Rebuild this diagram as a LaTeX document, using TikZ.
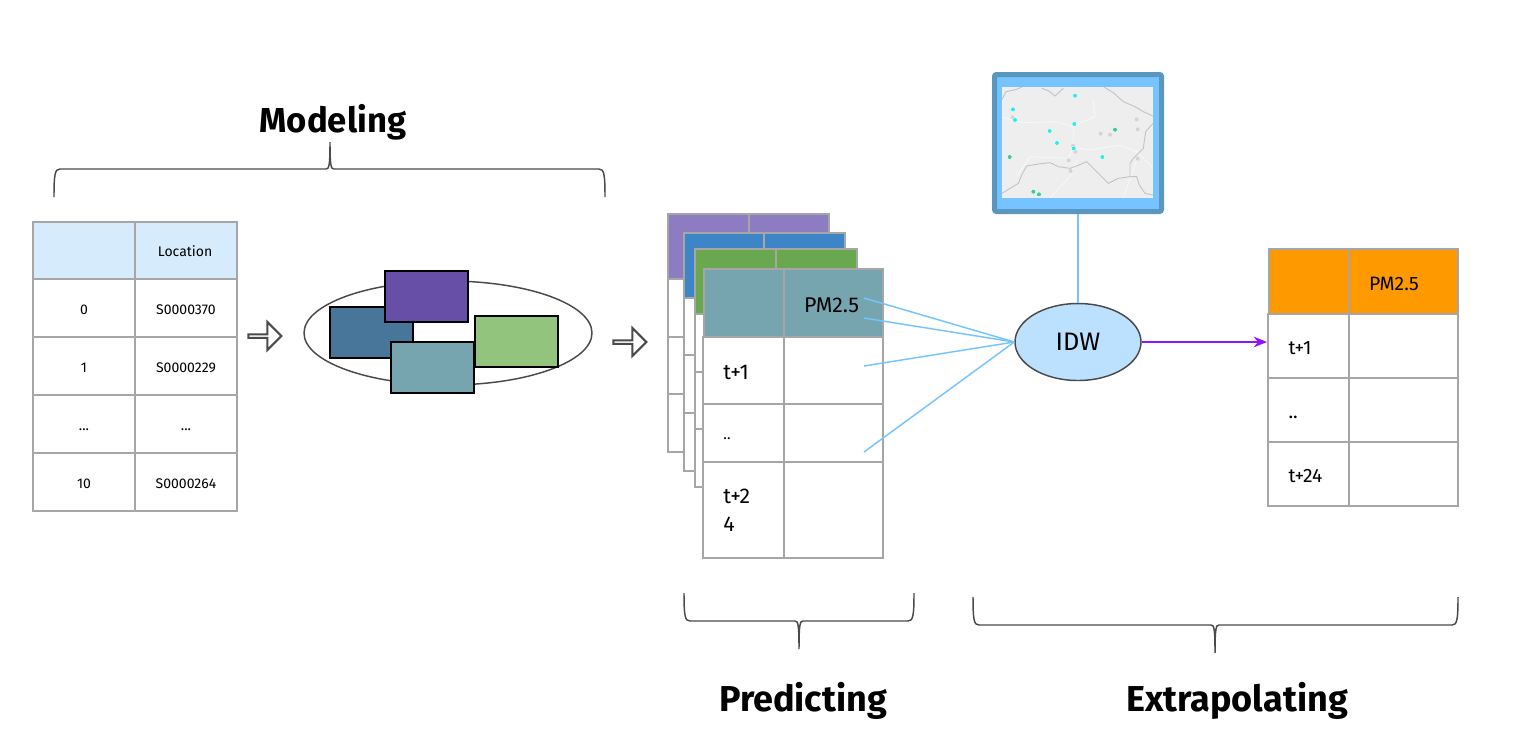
\documentclass[tikz,border=0pt]{standalone}
\usepackage{fontspec}
\setmainfont{Fira Sans}
\usetikzlibrary{arrows.meta,positioning,shapes.geometric,shapes.arrows}
\definecolor{cellgray}{HTML}{A6A6A6}
\definecolor{headblue}{HTML}{D6ECFD}
\definecolor{headteal}{HTML}{76A5AF}
\definecolor{headpurple}{HTML}{8E7CC3}
\definecolor{headblue2}{HTML}{3D85C6}
\definecolor{headgreen}{HTML}{6AA84F}
\definecolor{headorange}{HTML}{FF9900}
\definecolor{modelblue}{HTML}{47769A}
\definecolor{modelpurple}{HTML}{674EA7}
\definecolor{modelgreen}{HTML}{93C47D}
\definecolor{linkblue}{HTML}{75C4FF}
\definecolor{idwfill}{HTML}{BBE1FF}
\definecolor{linkpurple}{HTML}{9013FE}
\definecolor{framblue}{HTML}{5B96BE}
\definecolor{darkline}{HTML}{4A4A4A}
\definecolor{mapgray}{HTML}{EEEEEE}
\definecolor{mapborder}{HTML}{C4C4C4}
\definecolor{maproad}{HTML}{F8F8F8}
\definecolor{dotcyan}{HTML}{2CEDE6}
\definecolor{dotgreen}{HTML}{3CC9A0}
\def\px{0.75pt}
\tikzset{
  tablecell/.style={
    rectangle,
    draw=cellgray,
    line width=1.5pt,
    fill=white,
    inner sep=0pt,
    outer sep=0pt,
    align=center
  },
  textcell/.style={tablecell, align=left, inner xsep=15pt, inner ysep=0pt},
  smallcell/.style={font=\fontsize{10.5}{12}\selectfont, text height=9.5pt, text depth=0pt},
  bigtext/.style={font=\fontsize{16}{18}\selectfont, text height=14.2pt, text depth=0pt},
  midtext/.style={font=\fontsize{14.5}{16}\selectfont, text height=13pt, text depth=0pt},
  modelbox/.style={rectangle, draw=black, line width=1.5pt, inner sep=0pt,
    minimum width=83*\px, minimum height=51*\px, anchor=north west},
  stagelabel/.style={font=\fontsize{27}{30}\selectfont\bfseries},
  hollowarrow/.style={single arrow, draw=darkline, line width=1.5pt, fill=white,
    minimum height=33*\px, minimum width=28*\px, single arrow head extend=7*\px,
    single arrow head indent=0pt, inner sep=0pt, outer sep=0pt},
  bracket/.style={draw=darkline, line width=1.1pt},
  idwlink/.style={draw=linkblue, line width=1.1pt},
  mapdot/.style={circle, inner sep=0pt, minimum size=3.6pt, draw=white, line width=.3pt}
}
\begin{document}
\begin{tikzpicture}[x=0.75pt,y=-0.75pt]
\useasboundingbox (0,0) rectangle (1524,744);

% modeling table
\node[tablecell, fill=headblue, minimum width=102*\px, minimum height=57*\px] (lh) at (84,250.5) {};
\node[textcell, smallcell, fill=headblue, text width=46.5pt, minimum height=57*\px, right=0pt of lh] (lloc) {\hspace{2.2pt}Location};
\node[tablecell, smallcell, minimum width=102*\px, minimum height=58*\px, below=0pt of lh] (la) {0};
\node[tablecell, smallcell, minimum width=102*\px, minimum height=58*\px, below=0pt of la] (lb) {1};
\node[tablecell, smallcell, minimum width=102*\px, minimum height=58*\px, below=0pt of lb] (lc) {...};
\node[tablecell, smallcell, minimum width=102*\px, minimum height=57.5*\px, below=0pt of lc] (ld) {10};
\node[tablecell, smallcell, minimum width=102*\px, minimum height=58*\px, below=0pt of lloc] (ma) {S0000370};
\node[tablecell, smallcell, minimum width=102*\px, minimum height=58*\px, below=0pt of ma] (mb) {S0000229};
\node[tablecell, smallcell, minimum width=102*\px, minimum height=58*\px, below=0pt of mb] (mc) {...};
\node[tablecell, smallcell, minimum width=102*\px, minimum height=57.5*\px, below=0pt of mc] (md) {S0000264};

\node[hollowarrow] (arrowa) at (264,336) {};

% model ensemble
\node[ellipse, draw=darkline, line width=1.1pt, fill=white, minimum width=288*\px, minimum height=104*\px, inner sep=0pt] (ens) at (448,333) {};
\node[modelbox, fill=modelblue] (mblue) at (329,306) {};
\node[modelbox, fill=modelpurple] (mpurple) at (384,270) {};
\node[modelbox, fill=modelgreen] (mgreen) at (474,315) {};
\node[modelbox, fill=headteal] (mteal) at (390,341) {};

\node[hollowarrow] (arrowb) at (629,342) {};

% stacked prediction tables
\foreach \n/\x/\y/\a/\b/\hh/\ra/\rb/\rc/\f in {
  pu/668/214/81/80/65/58/57/58/headpurple,
  bl/684/233/80/81/65/57/58/58/headblue2,
  gr/695/249/81/81/65/58/57/58/headgreen}{
  \node[tablecell, fill=\f, minimum width=\a*\px, minimum height=\hh*\px, anchor=north west] (\n h) at (\x,\y) {};
  \node[tablecell, fill=\f, minimum width=\b*\px, minimum height=\hh*\px, right=0pt of \n h] (\n v) {};
  \node[tablecell, minimum width=\a*\px, minimum height=\ra*\px, below=0pt of \n h] (\n a) {};
  \node[tablecell, minimum width=\a*\px, minimum height=\rb*\px, below=0pt of \n a] (\n b) {};
  \node[tablecell, minimum width=\a*\px, minimum height=\rc*\px, below=0pt of \n b] (\n c) {};
  \node[tablecell, minimum width=\b*\px, minimum height=\ra*\px, below=0pt of \n v] (\n d) {};
  \node[tablecell, minimum width=\b*\px, minimum height=\rb*\px, below=0pt of \n d] (\n e) {};
  \node[tablecell, minimum width=\b*\px, minimum height=\rc*\px, below=0pt of \n e] (\n f) {};
}
\node[tablecell, fill=headteal, minimum width=80.5*\px, minimum height=68*\px, anchor=north west] (th) at (703.5,269) {};
\node[textcell, bigtext, fill=headteal, text width=44pt, minimum height=68*\px, right=0pt of th] (tv) {PM2.5};
\node[textcell, bigtext, text width=30.4pt, minimum height=67*\px, below=0pt of th] (ta) {t+1};
\node[textcell, text width=30.4pt, minimum height=58*\px, font=\fontsize{11}{13}\selectfont, text height=9pt, text depth=0pt, below=0pt of ta] (tb) {..};
\node[textcell, text width=30.4pt, minimum height=95.5*\px, font=\fontsize{16}{21}\selectfont, below=0pt of tb] (tc) {t+2\\4};
\node[tablecell, minimum width=98.67*\px, minimum height=67*\px, below=0pt of tv] (td) {};
\node[tablecell, minimum width=98.67*\px, minimum height=58*\px, below=0pt of td] (te) {};
\node[tablecell, minimum width=98.67*\px, minimum height=95.5*\px, below=0pt of te] (tf) {};

% extrapolated table
\node[tablecell, fill=headorange, minimum width=80.5*\px, minimum height=65*\px, anchor=north west] (rh) at (1268.5,249) {};
\node[textcell, midtext, fill=headorange, text width=51.5pt, minimum height=65*\px, right=0pt of rh] (rv) {PM2.5};
\node[textcell, midtext, text width=30.4pt, minimum height=64*\px, below=0pt of rh] (ra) {t+1};
\node[textcell, midtext, text width=30.4pt, minimum height=64*\px, below=0pt of ra] (rb) {..};
\node[textcell, midtext, text width=30.4pt, minimum height=64*\px, below=0pt of rb] (rc) {t+24};
\node[tablecell, minimum width=108.67*\px, minimum height=64*\px, below=0pt of rv] (rd) {};
\node[tablecell, minimum width=108.67*\px, minimum height=64*\px, below=0pt of rd] (re) {};
\node[tablecell, minimum width=108.67*\px, minimum height=64*\px, below=0pt of re] (rf) {};

% map screen
\node[rectangle, rounded corners=1.5pt, draw=framblue, line width=3.75pt, fill=linkblue, minimum width=167*\px, minimum height=137*\px, inner sep=0pt] (screen) at (1078,143) {};
\begin{scope}[shift={(980,60)},x=0.25pt,y=-0.25pt]
  \fill[mapgray] (66,81) rectangle (519,413);
  \begin{scope}
    \clip (66,81) rectangle (519,413);
    \draw[maproad, line width=.6pt] (66,172) -- (130,188) -- (230,185) -- (280,200) -- (280,262) -- (330,270) -- (420,255) -- (470,275) -- (519,325);
    \draw[maproad, line width=.6pt] (340,120) -- (345,170) -- (285,195);
    \draw[maproad, line width=.6pt] (110,350) -- (150,290) -- (265,295) -- (280,262);
    \draw[maproad, line width=.6pt] (210,413) -- (270,350) -- (290,300);
    \draw[maproad, line width=.6pt] (430,413) -- (470,300);
    \draw[mapborder, line width=.7pt] (66,118) -- (78,95) -- (110,88) -- (125,81);
    \draw[mapborder, line width=.7pt] (185,85) -- (205,92) -- (225,108) -- (250,85);
    \draw[mapborder, line width=.7pt] (372,81) -- (400,98) -- (430,125) -- (465,140) -- (490,155) -- (519,168);
    \draw[mapborder, line width=.7pt] (519,190) -- (497,215) -- (490,265) -- (460,295) -- (450,310) -- (450,350) -- (415,355) -- (385,370) -- (360,345) -- (335,320) -- (320,305) -- (290,318) -- (270,325) -- (235,320) -- (210,308) -- (175,312) -- (140,318) -- (125,345) -- (115,370) -- (90,385) -- (66,400);
    \draw[mapborder, line width=.7pt] (450,350) -- (470,350) -- (478,375) -- (495,400) -- (519,405);
  \end{scope}
  \foreach \x/\y in {98/172,470/178,473/208,362/221,390/224,279/257,286/275,266/301,272/333,473/296}
    \fill[black!17] (\x,\y) circle (1.5pt);
  \foreach \x/\y in {285/107,99/148,105/180,283/192,209/213,231/249,281/265,367/291}
    \node[mapdot, fill=dotcyan] at (\x,\y) {};
  \foreach \x/\y in {405/209,89/291,160/395,177/403}
    \node[mapdot, fill=dotgreen] at (\x,\y) {};
\end{scope}

% idw step
\node[ellipse, draw=darkline, line width=1.1pt, fill=idwfill, minimum width=126*\px, minimum height=77*\px, inner sep=0pt, font=\fontsize{19}{24}\selectfont] (idw) at (1078,342) {IDW};
\coordinate (pma) at (864,298);
\coordinate (pmb) at (864,318);
\coordinate (pmc) at (864,366);
\coordinate (pmd) at (864,452);
\draw[idwlink] (pma) -- (idw.west);
\draw[idwlink] (pmb) -- (idw.west);
\draw[idwlink] (pmc) -- (idw.west);
\draw[idwlink] (pmd) -- (idw.west);
\draw[idwlink] (screen.south) -- (idw.north);
\coordinate (rin) at (1267,342);
\draw[-{Stealth[length=10pt,width=8pt]}, draw=linkpurple, fill=linkpurple, line width=1.1pt] (idw.east) -- (rin);

% braces
\foreach \n/\xa/\xm/\xb/\ye/\yb/\yt/\d in {
  brmodel/54/330/605/197/169/142/1,
  brpred/684/799/914/593/621/649/-1,
  brextra/973/1215/1458/597/625/653/-1}{
  \draw[bracket] (\xa,\ye) .. controls (\xa,\yb+5*\d) and (\xa+1,\yb) .. (\xa+6,\yb)
    -- (\xm-4,\yb) .. controls (\xm-1,\yb) and (\xm,\yb-3*\d) .. (\xm,\yt)
    .. controls (\xm,\yb-3*\d) and (\xm+1,\yb) .. (\xm+4,\yb)
    -- (\xb-6,\yb) .. controls (\xb-1,\yb) and (\xb,\yb+5*\d) .. (\xb,\ye);
}

\node[stagelabel, font=\fontsize{26}{30}\selectfont\bfseries] (modeling) at (333,122.5) {Modeling};
\node[stagelabel] (predicting) at (803,700.5) {Predicting};
\node[stagelabel] (extrapolating) at (1237,700.5) {Extrapolating};
\end{tikzpicture}
\end{document}
